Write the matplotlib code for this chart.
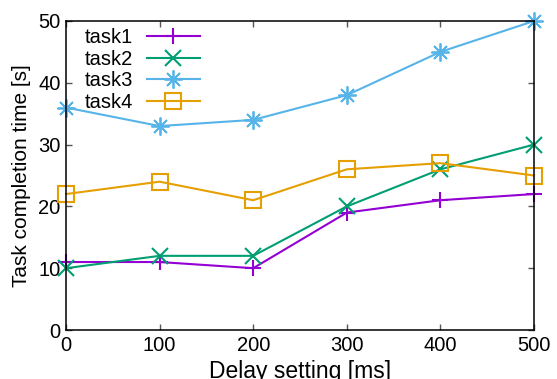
import matplotlib
matplotlib.use("Agg")
import matplotlib.pyplot as plt

plt.rcParams['font.family'] = ['Liberation Sans', 'DejaVu Sans']

delays = [0, 100, 200, 300, 400, 500]
task1 = [11, 11, 10, 19, 21, 22]
task2 = [10, 12, 12, 20, 26, 30]
task3 = [36, 33, 34, 38, 45, 50]
task4 = [22, 24, 21, 26, 27, 25]
labels = ["task1", "task2", "task3", "task4"]
xticks = [0, 100, 200, 300, 400, 500]
yticks = [0, 10, 20, 30, 40, 50]

fig = plt.figure(figsize=(5.57, 3.79), dpi=100)
ax = fig.add_axes([66/557, 1-330/379, (534-66)/557, (330-21)/379])

styles = [
    dict(color="#9400d3", marker="+", markersize=11, mew=1.5),
    dict(color="#009e73", marker="x", markersize=11, mew=1.5),
    dict(color="#56b4e9", marker=(8, 2, 0), markersize=13, mew=1.3),
    dict(color="#e69f00", marker="s", markersize=11, mew=1.5, mfc="none"),
]
for data, lab, st in zip([task1, task2, task3, task4], labels, styles):
    ax.plot(delays, data, label=lab, lw=1.5, clip_on=False, **st)

ax.set_xlim(0, 500)
ax.set_ylim(0, 50)
ax.set_xticks(xticks)
ax.set_yticks(yticks)
ax.tick_params(direction="in", top=True, right=True, length=4, width=1,
               color="#555555", labelsize=14.5, pad=4)
for s in ax.spines.values():
    s.set_linewidth(1.1)
ax.set_xlabel("Delay setting [ms]", fontsize=16.5, labelpad=4)
ax.set_ylabel("Task completion time [s]", fontsize=15, labelpad=5)

ax.legend(loc="upper left", frameon=False, markerfirst=False, fontsize=14.5,
          handlelength=2.6, handletextpad=0.7, labelspacing=0.12,
          borderaxespad=0.3, bbox_to_anchor=(0.010, 1.022))

fig.savefig("out.png", dpi=100)
